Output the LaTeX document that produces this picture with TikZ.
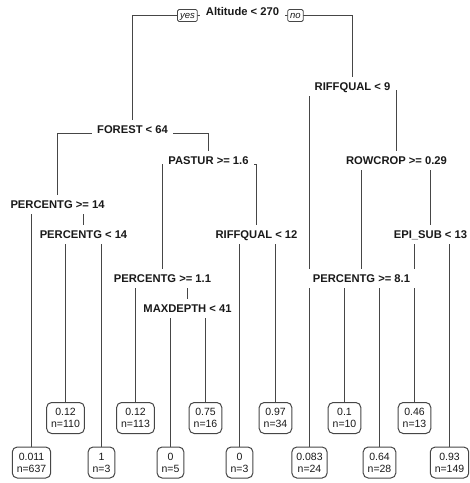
\documentclass[tikz,border=0pt]{standalone}
\usepackage{fontspec}
\setmainfont{Liberation Sans}
\usetikzlibrary{backgrounds}
\definecolor{branchgray}{RGB}{70,70,70}
\definecolor{labelink}{RGB}{25,25,25}
\begin{document}
\begin{tikzpicture}[
  x=1pt, y=-1pt,
  every node/.style={text=labelink},
  split/.style={
    font=\fontsize{11.2}{13}\selectfont\bfseries,
    fill=white,
    anchor=base,
    text height=11pt,
    text depth=2.5pt,
    inner xsep=5.5pt,
    inner ysep=3pt
  },
  leaf/.style={
    draw=branchgray,
    line width=1pt,
    fill=white,
    rounded corners=5pt,
    align=center,
    font=\fontsize{10.5}{12}\selectfont,
    inner xsep=4.5pt,
    minimum height=31pt
  },
  yesno/.style={
    draw=branchgray,
    line width=0.8pt,
    fill=white,
    rounded corners=1.5pt,
    font=\fontsize{9.5}{11}\selectfont\itshape,
    text height=7pt,
    text depth=2pt,
    inner xsep=2.5pt,
    inner ysep=1.5pt,
    anchor=east
  },
  branch/.style={draw=branchgray, line width=1pt}
]
\useasboundingbox (0,0) rectangle (470,483);
\node[split] (root) at (242.5,15.5) {Altitude < 270};
\node[yesno] (yes) at ([xshift=-2.5pt]root.base west) {yes};
\node[yesno, anchor=west] (no) at ([xshift=2.5pt]root.base east) {no};
\node[split] (forest) at (132.5,133.5) {FOREST < 64};
\node[split] (riff9) at (352.5,90.5) {RIFFQUAL < 9};
\node[split] (pastur) at (208.5,164.5) {PASTUR >= 1.6};
\node[split] (rowcrop) at (396.5,164.5) {ROWCROP >= 0.29};
\node[split] (perc14) at (57.5,208.5) {PERCENTG >= 14};
\node[split] (perclt14) at (83.5,238.5) {PERCENTG < 14};
\node[split] (riff12) at (256.5,238.5) {RIFFQUAL < 12};
\node[split] (episub) at (430.5,238.5) {EPI\_SUB < 13};
\node[split] (perc11) at (162.5,282.5) {PERCENTG >= 1.1};
\node[split] (perc81) at (361.5,282.5) {PERCENTG >= 8.1};
\node[split] (maxdepth) at (187.5,312.5) {MAXDEPTH < 41};
\node[leaf] (n637) at (31.5,462.5) {0.011\\n=637};
\node[leaf] (n110) at (65.5,418) {0.12\\n=110};
\node[leaf] (n3a) at (101.5,462.5) {1\\n=3};
\node[leaf] (n113) at (135.5,418) {0.12\\n=113};
\node[leaf] (n5) at (170.5,462.5) {0\\n=5};
\node[leaf] (n16) at (205.5,418) {0.75\\n=16};
\node[leaf] (n3b) at (239.5,462.5) {0\\n=3};
\node[leaf] (n34) at (275.5,418) {0.97\\n=34};
\node[leaf] (n24) at (309.5,462.5) {0.083\\n=24};
\node[leaf] (n10) at (344.5,418) {0.1\\n=10};
\node[leaf] (n28) at (379.5,462.5) {0.64\\n=28};
\node[leaf] (n13) at (414.5,418) {0.46\\n=13};
\node[leaf] (n149) at (449.5,462.5) {0.93\\n=149};
\begin{pgfonlayer}{background}
\draw[branch] (root.base) -| (forest.base);
\draw[branch] (root.base) -| (riff9.base);
\draw[branch] (forest.base) -| (perc14.base);
\draw[branch] (forest.base) -| (pastur.base);
\draw[branch] (perc14.base) -| (n637.center);
\draw[branch] (perc14.base) -| (perclt14.base);
\draw[branch] (perclt14.base) -| (n110.center);
\draw[branch] (perclt14.base) -| (n3a.center);
\draw[branch] (pastur.base) -| (perc11.base);
\draw[branch] (pastur.base) -| (riff12.base);
\draw[branch] (perc11.base) -| (n113.center);
\draw[branch] (perc11.base) -| (maxdepth.base);
\draw[branch] (maxdepth.base) -| (n5.center);
\draw[branch] (maxdepth.base) -| (n16.center);
\draw[branch] (riff12.base) -| (n3b.center);
\draw[branch] (riff12.base) -| (n34.center);
\draw[branch] (riff9.base) -| (n24.center);
\draw[branch] (riff9.base) -| (rowcrop.base);
\draw[branch] (rowcrop.base) -| (perc81.base);
\draw[branch] (rowcrop.base) -| (episub.base);
\draw[branch] (perc81.base) -| (n10.center);
\draw[branch] (perc81.base) -| (n28.center);
\draw[branch] (episub.base) -| (n13.center);
\draw[branch] (episub.base) -| (n149.center);
\end{pgfonlayer}
\end{tikzpicture}
\end{document}
